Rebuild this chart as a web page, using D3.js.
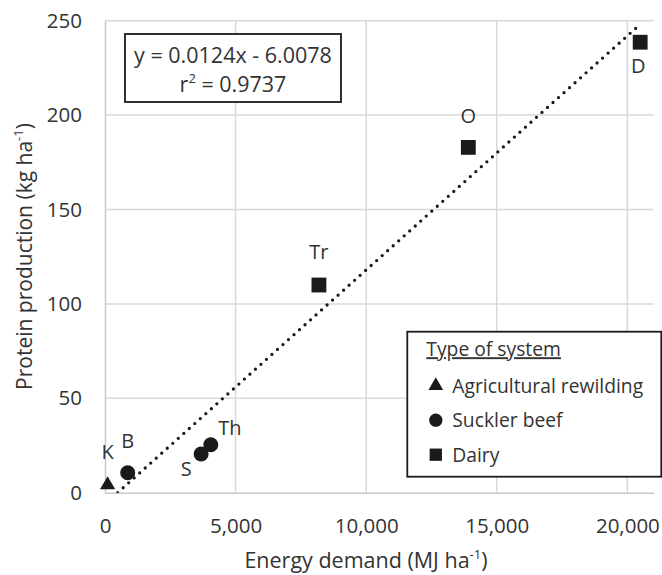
<!DOCTYPE html>
<html>
<head>
<meta charset="utf-8">
<script src="https://cdn.jsdelivr.net/npm/d3@7"></script>
<style>
  body { margin: 0; background: #fff; }
  svg text { font-family: "Open Sans", sans-serif; fill: #333; }
</style>
</head>
<body>
<div id="chart"></div>
<script>
// data
var pointLabels = ["K", "B", "S", "Th", "Tr", "O", "D"];
var systemType = ["Agricultural rewilding", "Suckler beef", "Suckler beef", "Suckler beef", "Dairy", "Dairy", "Dairy"];
var energyDemand = [100, 870, 3680, 4050, 8190, 13910, 20490];
var proteinProd = [4.1, 10.6, 20.5, 25.4, 110, 182.9, 238.6];
var xTicks = [0, 5000, 10000, 15000, 20000];
var yTicks = [0, 50, 100, 150, 200, 250];
var legendItems = ["Agricultural rewilding", "Suckler beef", "Dairy"];
var slope = 0.0124, intercept = -6.0078, rSquared = 0.9737;

// label placement around each marker (pixels)
var labelOffset = {
  K: [0, -33], B: [0, -32], S: [-15, 15], Th: [19, -17],
  Tr: [0, -33], O: [0, -32], D: [-2, 24]
};

var width = 662, height = 575;
var margin = {top: 20.7, right: 8.5, bottom: 82.3, left: 105};

var svg = d3.select("#chart").append("svg")
    .attr("width", width)
    .attr("height", height);

var x = d3.scaleLinear().domain([0, 21000]).range([margin.left, width - margin.right]);
var y = d3.scaleLinear().domain([0, 250]).range([height - margin.bottom, margin.top]);

var grid = "#d9d9d9";

// gridlines
svg.append("g").selectAll("line")
    .data(xTicks.filter(function(d) { return d > 0; }))
  .enter().append("line")
    .attr("x1", function(d) { return x(d); })
    .attr("x2", function(d) { return x(d); })
    .attr("y1", y(0)).attr("y2", y(250))
    .attr("stroke", grid).attr("stroke-width", 1.5);

svg.append("g").selectAll("line")
    .data(yTicks.filter(function(d) { return d > 0; }))
  .enter().append("line")
    .attr("x1", x(0)).attr("x2", x(21000))
    .attr("y1", function(d) { return y(d); })
    .attr("y2", function(d) { return y(d); })
    .attr("stroke", grid).attr("stroke-width", 1.5);

// axes
var xAxis = svg.append("g")
    .attr("transform", "translate(0," + y(0) + ")")
    .call(d3.axisBottom(x).tickValues(xTicks).tickSize(0).tickPadding(25.5).tickFormat(d3.format(",")));
var yAxis = svg.append("g")
    .attr("transform", "translate(" + x(0) + ",0)")
    .call(d3.axisLeft(y).tickValues(yTicks).tickSize(0).tickPadding(23));

[xAxis, yAxis].forEach(function(a) {
  a.select(".domain").attr("stroke", "#c8c8c8").attr("stroke-width", 1.5);
  a.selectAll("text").style("font-size", "20.5px").attr("fill", "#333");
});

// axis titles
var xt = svg.append("text")
    .attr("x", 366)
    .attr("y", 568)
    .attr("text-anchor", "middle")
    .style("font-size", "21.5px")
    .text("Energy demand (MJ ha");
xt.append("tspan").attr("baseline-shift", "super").style("font-size", "13px").text("-1");
xt.append("tspan").text(")");

var yt = svg.append("text")
    .attr("transform", "translate(31.5,256.5) rotate(-90)")
    .attr("text-anchor", "middle")
    .style("font-size", "21px")
    .text("Protein production (kg ha");
yt.append("tspan").attr("baseline-shift", "super").style("font-size", "13px").text("-1");
yt.append("tspan").text(")");

// trendline (Excel style, over the data range, clipped at the plot)
svg.append("clipPath").attr("id", "plotclip")
  .append("rect")
    .attr("x", x(0)).attr("y", y(250) - 4)
    .attr("width", x(21000) - x(0)).attr("height", y(0) - y(250) + 4);

var xExt = d3.extent(energyDemand);
var x0 = Math.max(xExt[0], -intercept / slope);
svg.append("line")
    .attr("clip-path", "url(#plotclip)")
    .attr("x1", x(x0)).attr("y1", y(slope * x0 + intercept))
    .attr("x2", x(xExt[1])).attr("y2", y(slope * xExt[1] + intercept))
    .attr("stroke", "#1a1a1a")
    .attr("stroke-width", 3.3)
    .attr("stroke-linecap", "round")
    .attr("stroke-dasharray", "0 7.4");

// markers
var symbolFor = {
  "Agricultural rewilding": d3.symbol().type(d3.symbolTriangle).size(100),
  "Suckler beef": d3.symbol().type(d3.symbolCircle).size(177),
  "Dairy": d3.symbol().type(d3.symbolSquare).size(220)
};

var pts = pointLabels.map(function(l, i) {
  return {label: l, sys: systemType[i], e: energyDemand[i], p: proteinProd[i]};
});

svg.append("g").selectAll("path")
    .data(pts)
  .enter().append("path")
    .attr("transform", function(d) { return "translate(" + x(d.e) + "," + y(d.p) + ")"; })
    .attr("d", function(d) { return symbolFor[d.sys](); })
    .attr("fill", "#1a1a1a");

svg.append("g").selectAll("text")
    .data(pts)
  .enter().append("text")
    .attr("x", function(d) { return x(d.e) + labelOffset[d.label][0]; })
    .attr("y", function(d) { return y(d.p) + labelOffset[d.label][1]; })
    .attr("dy", "0.36em")
    .attr("text-anchor", "middle")
    .style("font-size", "20px")
    .text(function(d) { return d.label; });

// equation box
svg.append("rect")
    .attr("x", 125).attr("y", 34).attr("width", 216).attr("height", 68)
    .attr("fill", "#fff").attr("stroke", "#1a1a1a").attr("stroke-width", 1.8);
svg.append("text")
    .attr("x", 233).attr("y", 63).attr("text-anchor", "middle")
    .style("font-size", "21.5px")
    .text("y = " + slope + "x - " + Math.abs(intercept));
var r2 = svg.append("text")
    .attr("x", 233).attr("y", 91.5).attr("text-anchor", "middle")
    .style("font-size", "21.5px")
    .text("r");
r2.append("tspan").attr("baseline-shift", "super").style("font-size", "13px").text("2");
r2.append("tspan").text(" = " + rSquared);

// legend
var lg = svg.append("g").attr("transform", "translate(407.3,331.7)");
lg.append("rect")
    .attr("width", 254).attr("height", 145)
    .attr("fill", "#fff").attr("stroke", "#1a1a1a").attr("stroke-width", 1.8);
lg.append("text")
    .attr("x", 19).attr("y", 24.5)
    .style("font-size", "19.3px")
    .style("text-decoration", "underline")
    .text("Type of system");

var legendSym = {
  "Agricultural rewilding": d3.symbol().type(d3.symbolTriangle).size(94),
  "Suckler beef": d3.symbol().type(d3.symbolCircle).size(139),
  "Dairy": d3.symbol().type(d3.symbolSquare).size(151)
};
var li = lg.selectAll("g.item")
    .data(legendItems)
  .enter().append("g")
    .attr("transform", function(d, i) { return "translate(0," + (54 + i * 34.5) + ")"; });
li.append("path")
    .attr("transform", "translate(28.5,0)")
    .attr("d", function(d) { return legendSym[d](); })
    .attr("fill", "#1a1a1a");
li.append("text")
    .attr("x", 45).attr("dy", "0.36em")
    .style("font-size", "19.3px")
    .text(function(d) { return d; });
</script>
</body>
</html>
